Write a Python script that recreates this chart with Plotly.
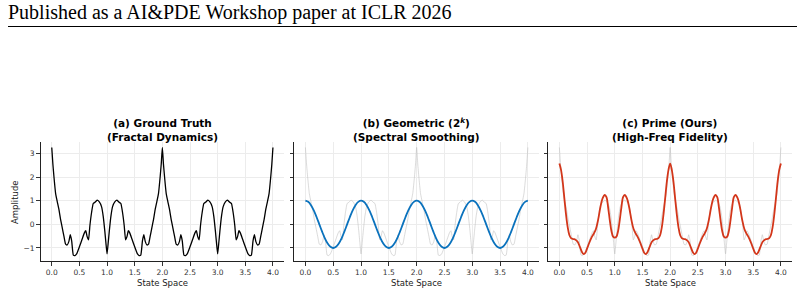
import plotly.graph_objects as go

# ---------------- data ----------------
gt_x = [0.00, 0.02, 0.04, 0.07, 0.10, 0.13, 0.16, 0.19, 0.22, 0.25, 0.28, 0.31, 0.335, 0.36, 0.39, 0.42, 0.45,
        0.50, 0.55, 0.59, 0.615, 0.64, 0.665, 0.69, 0.72, 0.75, 0.78, 0.82, 0.86, 0.90, 0.93, 0.96, 0.98, 1.00,
        1.02, 1.04, 1.07, 1.10, 1.14, 1.18, 1.22, 1.25, 1.28, 1.31, 1.335, 1.36, 1.385, 1.41, 1.45, 1.50,
        1.55, 1.58, 1.61, 1.64, 1.665, 1.69, 1.72, 1.75, 1.78, 1.81, 1.84, 1.87, 1.90, 1.93, 1.96, 1.98, 2.00,
        2.02, 2.04, 2.07, 2.10, 2.13, 2.16, 2.19, 2.22, 2.25, 2.28, 2.31, 2.335, 2.36, 2.39, 2.42, 2.45,
        2.50, 2.55, 2.59, 2.615, 2.64, 2.665, 2.69, 2.72, 2.75, 2.78, 2.82, 2.86, 2.90, 2.93, 2.96, 2.98, 3.00,
        3.02, 3.04, 3.07, 3.10, 3.14, 3.18, 3.22, 3.25, 3.28, 3.31, 3.335, 3.36, 3.385, 3.41, 3.45, 3.50,
        3.55, 3.58, 3.61, 3.64, 3.665, 3.69, 3.72, 3.75, 3.78, 3.81, 3.84, 3.87, 3.90, 3.93, 3.96, 3.98, 4.00]
gt_y = [3.25, 2.55, 2.00, 1.30, 0.95, 0.62, 0.20, -0.15, -0.50, -0.84, -0.87, -0.72, -0.44, -0.70, -1.30, -1.32, -1.25,
        -0.95, -0.62, -0.36, -0.27, -0.52, -0.66, -0.05, 0.50, 0.88, 0.93, 1.02, 0.95, 0.75, 0.35, -0.30, -0.80, -1.25,
        -0.80, -0.30, 0.35, 0.75, 0.95, 1.02, 0.93, 0.88, 0.50, -0.05, -0.66, -0.52, -0.27, -0.36, -0.62, -0.95,
        -1.25, -1.32, -1.30, -0.70, -0.44, -0.72, -0.87, -0.84, -0.50, -0.15, 0.20, 0.62, 0.95, 1.30, 2.00, 2.55, 3.25,
        2.55, 2.00, 1.30, 0.95, 0.62, 0.20, -0.15, -0.50, -0.84, -0.87, -0.72, -0.44, -0.70, -1.30, -1.32, -1.25,
        -0.95, -0.62, -0.36, -0.27, -0.52, -0.66, -0.05, 0.50, 0.88, 0.93, 1.02, 0.95, 0.75, 0.35, -0.30, -0.80, -1.25,
        -0.80, -0.30, 0.35, 0.75, 0.95, 1.02, 0.93, 0.88, 0.50, -0.05, -0.66, -0.52, -0.27, -0.36, -0.62, -0.95,
        -1.25, -1.32, -1.30, -0.70, -0.44, -0.72, -0.87, -0.84, -0.50, -0.15, 0.20, 0.62, 0.95, 1.30, 2.00, 2.55, 3.25]

geo_x = [0.00, 0.05, 0.10, 0.15, 0.20, 0.25, 0.30, 0.35, 0.40, 0.45, 0.50, 0.55, 0.60, 0.65, 0.70, 0.75, 0.80, 0.85, 0.90, 0.95,
         1.00, 1.05, 1.10, 1.15, 1.20, 1.25, 1.30, 1.35, 1.40, 1.45, 1.50, 1.55, 1.60, 1.65, 1.70, 1.75, 1.80, 1.85, 1.90, 1.95,
         2.00, 2.05, 2.10, 2.15, 2.20, 2.25, 2.30, 2.35, 2.40, 2.45, 2.50, 2.55, 2.60, 2.65, 2.70, 2.75, 2.80, 2.85, 2.90, 2.95,
         3.00, 3.05, 3.10, 3.15, 3.20, 3.25, 3.30, 3.35, 3.40, 3.45, 3.50, 3.55, 3.60, 3.65, 3.70, 3.75, 3.80, 3.85, 3.90, 3.95,
         4.00]
geo_y = [1.00, 0.95, 0.81, 0.59, 0.31, 0.00, -0.31, -0.59, -0.81, -0.95, -1.00, -0.95, -0.81, -0.59, -0.31, 0.00, 0.31, 0.59, 0.81, 0.95,
         1.00, 0.95, 0.81, 0.59, 0.31, 0.00, -0.31, -0.59, -0.81, -0.95, -1.00, -0.95, -0.81, -0.59, -0.31, 0.00, 0.31, 0.59, 0.81, 0.95,
         1.00, 0.95, 0.81, 0.59, 0.31, 0.00, -0.31, -0.59, -0.81, -0.95, -1.00, -0.95, -0.81, -0.59, -0.31, 0.00, 0.31, 0.59, 0.81, 0.95,
         1.00, 0.95, 0.81, 0.59, 0.31, 0.00, -0.31, -0.59, -0.81, -0.95, -1.00, -0.95, -0.81, -0.59, -0.31, 0.00, 0.31, 0.59, 0.81, 0.95,
         1.00]

prime_x = [0.00, 0.03, 0.06, 0.09, 0.12, 0.15, 0.18, 0.21, 0.25, 0.29, 0.33, 0.37, 0.41, 0.44, 0.47, 0.50, 0.54, 0.58, 0.62, 0.66,
           0.70, 0.74, 0.78, 0.82, 0.85, 0.88, 0.91, 0.94, 0.97, 1.00,
           1.03, 1.06, 1.09, 1.12, 1.15, 1.18, 1.22, 1.26, 1.30, 1.34, 1.38, 1.42, 1.46, 1.50, 1.53, 1.56, 1.59, 1.63,
           1.67, 1.71, 1.75, 1.79, 1.82, 1.85, 1.88, 1.91, 1.94, 1.97, 2.00,
           2.03, 2.06, 2.09, 2.12, 2.15, 2.18, 2.21, 2.25, 2.29, 2.33, 2.37, 2.41, 2.44, 2.47, 2.50, 2.54, 2.58, 2.62, 2.66,
           2.70, 2.74, 2.78, 2.82, 2.85, 2.88, 2.91, 2.94, 2.97, 3.00,
           3.03, 3.06, 3.09, 3.12, 3.15, 3.18, 3.22, 3.26, 3.30, 3.34, 3.38, 3.42, 3.46, 3.50, 3.53, 3.56, 3.59, 3.63,
           3.67, 3.71, 3.75, 3.79, 3.82, 3.85, 3.88, 3.91, 3.94, 3.97, 4.00]
prime_y = [2.57, 2.30, 1.80, 1.10, 0.42, -0.12, -0.45, -0.58, -0.62, -0.65, -0.74, -0.95, -1.18, -1.26, -1.20, -1.03, -0.78, -0.56, -0.40, -0.20,
           0.20, 0.72, 1.10, 1.24, 1.15, 0.72, 0.18, -0.28, -0.52, -0.56,
           -0.52, -0.28, 0.18, 0.72, 1.15, 1.24, 1.10, 0.72, 0.20, -0.20, -0.40, -0.56, -0.78, -1.03, -1.20, -1.26, -1.18, -0.95,
           -0.74, -0.65, -0.62, -0.58, -0.45, -0.12, 0.42, 1.10, 1.80, 2.30, 2.57,
           2.30, 1.80, 1.10, 0.42, -0.12, -0.45, -0.58, -0.62, -0.65, -0.74, -0.95, -1.18, -1.26, -1.20, -1.03, -0.78, -0.56, -0.40, -0.20,
           0.20, 0.72, 1.10, 1.24, 1.15, 0.72, 0.18, -0.28, -0.52, -0.56,
           -0.52, -0.28, 0.18, 0.72, 1.15, 1.24, 1.10, 0.72, 0.20, -0.20, -0.40, -0.56, -0.78, -1.03, -1.20, -1.26, -1.18, -0.95,
           -0.74, -0.65, -0.62, -0.58, -0.45, -0.12, 0.42, 1.10, 1.80, 2.30, 2.57]

x_tickvals = [0.0, 0.5, 1.0, 1.5, 2.0, 2.5, 3.0, 3.5, 4.0]
x_ticktext = ["0.0", "0.5", "1.0", "1.5", "2.0", "2.5", "3.0", "3.5", "4.0"]
y_tickvals = [-1, 0, 1, 2, 3]
panel_titles = ["<b>(a) Ground Truth<br>(Fractal Dynamics)</b>",
                "<b>(b) Geometric (2<sup><i>k</i></sup>)<br>(Spectral Smoothing)</b>",
                "<b>(c) Prime (Ours)<br>(High-Freq Fidelity)</b>"]
header_text = "Published as a AI&amp;PDE Workshop paper at ICLR 2026"

# ---------------- figure ----------------
W, H = 804, 293
fig = go.Figure()

GREY = "rgba(190,190,190,0.55)"
fig.add_trace(go.Scatter(x=gt_x, y=gt_y, mode="lines", line=dict(color="#000000", width=1.3, shape="spline", smoothing=0.4),
                         xaxis="x", yaxis="y", showlegend=False))
fig.add_trace(go.Scatter(x=gt_x, y=gt_y, mode="lines", line=dict(color=GREY, width=1, shape="spline", smoothing=0.4),
                         xaxis="x2", yaxis="y2", showlegend=False))
fig.add_trace(go.Scatter(x=geo_x, y=geo_y, mode="lines", line=dict(color="#0a72bd", width=1.8, shape="spline"),
                         xaxis="x2", yaxis="y2", showlegend=False))
fig.add_trace(go.Scatter(x=gt_x, y=gt_y, mode="lines", line=dict(color=GREY, width=1, shape="spline", smoothing=0.4),
                         xaxis="x3", yaxis="y3", showlegend=False))
fig.add_trace(go.Scatter(x=prime_x, y=prime_y, mode="lines", line=dict(color="#d3361a", width=1.8, shape="spline"),
                         xaxis="x3", yaxis="y3", showlegend=False))

doms = [(40.7, 284.0), (294.3, 539.0), (548.3, 792.0)]
ytop, ybot = 142.0, 261.0
ydom = [1 - ybot / H, 1 - ytop / H]
tickfont = dict(family="DejaVu Sans", size=7.5, color="#333333")

axcommon = dict(showline=True, linecolor="#222222", linewidth=1.1, ticks="outside", ticklen=3.5, tickwidth=0.8,
                tickcolor="#333333", showgrid=True, gridcolor="#ececec", gridwidth=0.8, zeroline=False,
                tickfont=tickfont, mirror=False)

layout = dict(width=W, height=H, margin=dict(l=0, r=0, t=0, b=0), paper_bgcolor="white", plot_bgcolor="white",
              showlegend=False)
for i, (l, r) in enumerate(doms):
    sfx = "" if i == 0 else str(i + 1)
    layout["xaxis" + sfx] = dict(domain=[l / W, r / W], range=[-0.2, 4.2], tickvals=x_tickvals, ticktext=x_ticktext,
                                 anchor="y" + sfx, **axcommon)
    layout["yaxis" + sfx] = dict(domain=ydom, range=[-1.55, 3.48], tickvals=y_tickvals,
                                 showticklabels=(i == 0), anchor="x" + sfx, **axcommon)
fig.update_layout(**layout)

ann = []
for i, (l, r) in enumerate(doms):
    cx = (l + r) / 2 / W
    ann.append(dict(x=cx, y=1 - 129.5 / H, xref="paper", yref="paper", xanchor="center", yanchor="middle",
                    text=panel_titles[i], showarrow=False, align="center", borderpad=0,
                    font=dict(family="DejaVu Sans", size=10.5, color="#000000")))
    ann.append(dict(x=cx, y=1 - 282.5 / H, xref="paper", yref="paper", xanchor="center", yanchor="middle",
                    text="State Space", showarrow=False, font=dict(family="DejaVu Sans", size=8.5, color="#222222")))
ann.append(dict(x=15 / W, y=1 - 202 / H, xref="paper", yref="paper", xanchor="center", yanchor="middle",
                text="Amplitude", textangle=-90, showarrow=False,
                font=dict(family="DejaVu Sans", size=8.5, color="#222222")))
ann.append(dict(x=6 / W, y=1 - 13 / H, xref="paper", yref="paper", xanchor="left", yanchor="middle",
                text=header_text, showarrow=False, font=dict(family="Liberation Serif", size=20, color="#000000")))
fig.update_layout(annotations=ann)
fig.add_shape(type="line", xref="paper", yref="paper", x0=8 / W, x1=797 / W, y0=1 - 26.5 / H, y1=1 - 26.5 / H,
              line=dict(color="#000000", width=1))

fig.write_html("out.html")
